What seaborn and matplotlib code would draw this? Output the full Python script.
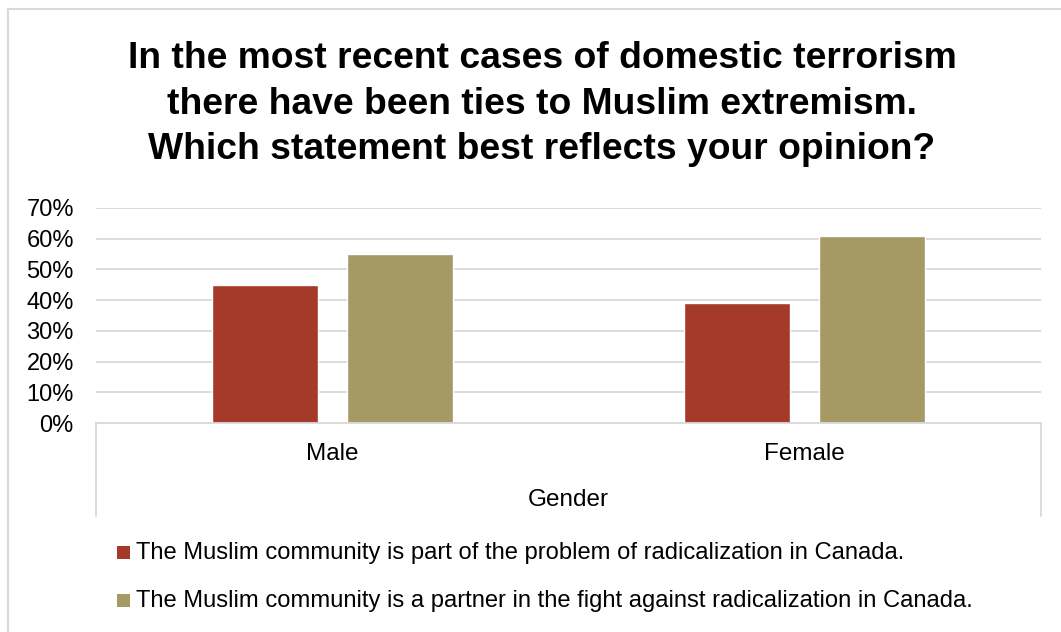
import matplotlib
matplotlib.use("Agg")
import matplotlib.pyplot as plt
import seaborn as sns
import pandas as pd
from matplotlib.lines import Line2D
from matplotlib.patches import Rectangle

categories = ["Male", "Female"]
series_names = [
    "The Muslim community is part of the problem of radicalization in Canada.",
    "The Muslim community is a partner in the fight against radicalization in Canada.",
]
problem_values = [0.45, 0.39]
partner_values = [0.55, 0.61]
tick_values = [0, 0.1, 0.2, 0.3, 0.4, 0.5, 0.6, 0.7]
tick_labels = ["0%", "10%", "20%", "30%", "40%", "50%", "60%", "70%"]
title = ("In the most recent cases of domestic terrorism\n"
         "there have been ties to Muslim extremism.\n"
         "Which statement best reflects your opinion?")
axis_title = "Gender"
colors = ["#A5392A", "#A59964"]

sns.set_theme(style="white")
plt.rcParams['font.family'] = ['Liberation Sans', 'DejaVu Sans']

df = pd.DataFrame({
    "Gender": categories * 2,
    "Series": [series_names[0]] * 2 + [series_names[1]] * 2,
    "Value": problem_values + partner_values,
})

W, H = 1061, 632
fig = plt.figure(figsize=(W / 100, H / 100), dpi=100)
ax = fig.add_axes([96 / W, 1 - 423 / H, (1041 - 96) / W, (423 - 208) / H])

sns.barplot(data=df, x="Gender", y="Value", hue="Series", order=categories,
            hue_order=series_names, palette=colors, width=0.57, gap=0.214,
            ax=ax, legend=False, saturation=1)

ax.set_xlim(-0.5, 1.5)
ax.set_ylim(0, 0.7)
ax.set_yticks(tick_values)
ax.set_yticklabels(tick_labels, fontsize=17, color="#000000")
ax.tick_params(axis="y", length=0, pad=16)
ax.set_xticks([])
ax.set_xlabel("")
ax.set_ylabel("")
ax.yaxis.grid(True, color="#D9D9D9", linewidth=1.3)
ax.set_axisbelow(True)
for s in ["top", "right", "left"]:
    ax.spines[s].set_visible(False)
ax.spines["bottom"].set_color("#D9D9D9")
ax.spines["bottom"].set_linewidth(1.3)

# category table below the axis
tf = fig.transFigure
for xpix in [96, 1041]:
    fig.add_artist(Line2D([xpix / W, xpix / W], [1 - 423 / H, 1 - 516 / H],
                          transform=tf, color="#D9D9D9", linewidth=1.3))
for i, c in enumerate(categories):
    ax.text(i, -0.145, c, transform=ax.get_xaxis_transform(), ha="center",
            va="center", fontsize=17.5, color="#000000")
fig.text(568 / W, 1 - 500 / H, axis_title, ha="center", va="center",
         fontsize=17.5, color="#000000")

# outer chart border (top and left)
fig.add_artist(Line2D([8 / W, 1], [1 - 9 / H, 1 - 9 / H], transform=tf,
                      color="#D9D9D9", linewidth=1.5))
fig.add_artist(Line2D([8 / W, 8 / W], [0, 1 - 9 / H], transform=tf,
                      color="#D9D9D9", linewidth=1.5))

# title
fig.text(542 / W, 1 - 104 / H, title, ha="center", va="center",
         fontsize=26.8, fontweight="bold", color="#000000", linespacing=1.39)

# legend
for i, (name, col) in enumerate(zip(series_names, colors)):
    yc = 553 + i * 48
    fig.add_artist(Rectangle((117 / W, 1 - (yc + 6) / H), 13 / W, 13 / H,
                             transform=tf, facecolor=col, edgecolor="none"))
    fig.text(136 / W, 1 - yc / H, name, ha="left", va="center",
             fontsize=17.1, color="#000000")

fig.savefig("out.png", dpi=100)
